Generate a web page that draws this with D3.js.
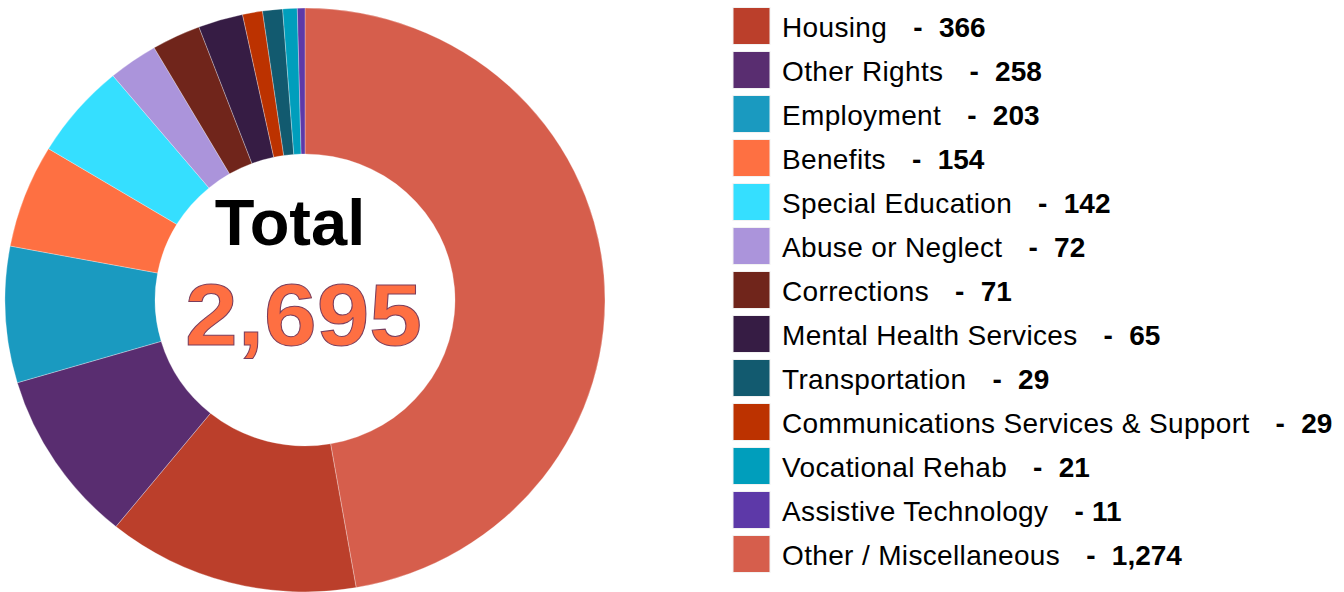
<!DOCTYPE html>
<html>
<head>
<meta charset="utf-8">
<script src="https://cdn.jsdelivr.net/npm/d3@7"></script>
<style>
  body { margin: 0; background: #fff; }
  svg { display: block; font-family: "Liberation Sans", Arial, sans-serif; }
</style>
</head>
<body>
<script>
const width = 1344
const height = 592

// legend order
const categories = [
    'Housing', 'Other Rights', 'Employment', 'Benefits', 'Special Education',
    'Abuse or Neglect', 'Corrections', 'Mental Health Services', 'Transportation',
    'Communications Services & Support', 'Vocational Rehab', 'Assistive Technology',
    'Other / Miscellaneous'
]
const values = [366, 258, 203, 154, 142, 72, 71, 65, 29, 29, 21, 11, 1274]
const colors = [
    '#bb3f2b', '#592d70', '#1a9ac0', '#fe7042', '#35dfff',
    '#ab94db', '#70251b', '#361c44', '#125a6f',
    '#bc3200', '#009ebc', '#5d39a8', '#d65e4c'
]
// order the slices run clockwise from 12 o'clock
const sliceOrder = [
    'Other / Miscellaneous', 'Housing', 'Other Rights', 'Employment', 'Benefits',
    'Special Education', 'Abuse or Neglect', 'Corrections', 'Mental Health Services',
    'Communications Services & Support', 'Transportation', 'Vocational Rehab',
    'Assistive Technology'
]
const totalLabel = 'Total'

const fmt = d3.format(',')
const rows = categories.map((c, i) => ({name: c, value: values[i], color: colors[i]}))
const byName = new Map(rows.map(r => [r.name, r]))
const total = d3.sum(values)

const svg = d3.select('body')
    .append('svg')
    .attr('width', width)
    .attr('height', height)

// donut (source picture is a little wider than tall)
const cx = 305, cy = 300
const outer = 300, inner = 150

const pie = d3.pie()
    .sort(null)
    .value(d => d.value)

const arc = d3.arc()
    .innerRadius(inner)
    .outerRadius(outer)

const donut = svg.append('g')
    .attr('transform', `translate(${cx},${cy}) scale(1,0.973)`)

donut.selectAll('path')
    .data(pie(sliceOrder.map(n => byName.get(n))))
    .enter().append('path')
    .attr('d', arc)
    .attr('fill', d => d.data.color)
    .attr('stroke', '#fff')
    .attr('stroke-opacity', .5)
    .attr('stroke-width', .6)

svg.append('text')
    .attr('x', 290)
    .attr('y', 245)
    .attr('text-anchor', 'middle')
    .attr('font-size', 65)
    .attr('font-weight', 'bold')
    .attr('fill', '#000')
    .text(totalLabel)

svg.append('text')
    .attr('x', 185)
    .attr('y', 345)
    .attr('font-size', 88)
    .attr('font-weight', 'bold')
    .attr('fill', '#fe6f42')
    .attr('stroke', '#7a3d5c')
    .attr('stroke-width', 1)
    .attr('textLength', 237)
    .attr('lengthAdjust', 'spacingAndGlyphs')
    .text(fmt(total))

// legend
const legendY = d3.scalePoint()
    .domain(categories)
    .range([26, 554])

const legend = svg.append('g')

const item = legend.selectAll('.item')
    .data(rows)
    .enter().append('g')
    .attr('class', 'item')
    .attr('transform', d => `translate(733,${legendY(d.name)})`)

item.append('rect')
    .attr('x', 0)
    .attr('y', -18.5)
    .attr('width', 37)
    .attr('height', 37)
    .attr('fill', d => d.color)
    .attr('stroke', '#f2f2f2')
    .attr('stroke-width', 1)

const label = item.append('text')
    .attr('x', 49)
    .attr('y', 11)
    .attr('font-size', 28)
    .attr('letter-spacing', .35)
    .attr('fill', '#000')

label.append('tspan')
    .text(d => d.name)

label.append('tspan')
    .attr('dx', 26)
    .attr('font-weight', 'bold')
    .text('-')

label.append('tspan')
    .attr('dx', d => d.value < 20 ? 8 : 16)
    .attr('font-weight', 'bold')
    .attr('letter-spacing', 0)
    .text(d => fmt(d.value))
</script>
</body>
</html>
